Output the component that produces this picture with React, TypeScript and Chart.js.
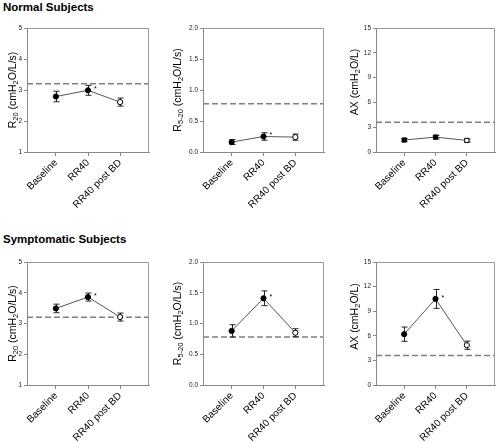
import React, { useEffect, useRef } from "react";
import { Chart, registerables } from "chart.js";
Chart.register(...registerables);

const FONT = '"Liberation Sans", Arial, sans-serif';
Chart.defaults.font.family = FONT;

// ---- data ----
const categories = ["Baseline", "RR40", "RR40 post BD"];
const xPositions = [1, 2, 3];

const r20Normal = [2.79, 2.99, 2.61];
const r20NormalErr = [0.17, 0.16, 0.13];
const r520Normal = [0.16, 0.25, 0.24];
const r520NormalErr = [0.04, 0.06, 0.05];
const axNormal = [1.45, 1.8, 1.4];
const axNormalErr = [0.18, 0.22, 0.18];

const r20Symp = [3.49, 3.86, 3.21];
const r20SympErr = [0.14, 0.13, 0.13];
const r520Symp = [0.88, 1.41, 0.85];
const r520SympErr = [0.1, 0.12, 0.065];
const axSymp = [6.2, 10.5, 4.85];
const axSympErr = [0.87, 1.15, 0.5];

const refR20 = 3.2;
const refR520 = 0.78;
const refAX = 3.6;

const starNormal = [false, true, false];
const starNormalAX = [false, false, false];
const starSymp = [false, true, false];

const markerFill = ["#000000", "#000000", "#ffffff"];

const r20Ticks = [1, 2, 3, 4, 5];
const r520Ticks = [0, 0.5, 1.0, 1.5, 2.0];
const axTicks = [0, 3, 6, 9, 12, 15];

// title segments: [text, isSubscript]
const titleR20: [string, boolean][] = [["R", false], ["20", true], [" (cmH", false], ["2", true], ["O/L/s)", false]];
const titleR520: [string, boolean][] = [["R", false], ["5-20", true], [" (cmH", false], ["2", true], ["O/L/s)", false]];
const titleAX: [string, boolean][] = [["AX (cmH", false], ["2", true], ["O/L)", false]];

const rowTitles = ["Normal Subjects", "Symptomatic Subjects"];

type PanelDef = {
  plotLeft: number; plotTop: number; plotW: number; plotH: number;
  values: number[]; errs: number[]; ref: number; stars: boolean[];
  ticks: number[]; decimals: number; title: [string, boolean][];
  titleOffset: number; titleShift: number; pointStyle: string; pointRadius: number;
};

const YW = 40, PT = 8, PR = 2, XH = 62;

function Panel({ p }: { p: PanelDef }) {
  const ref = useRef<HTMLCanvasElement>(null);
  const cw = YW + p.plotW + PR;
  const ch = PT + p.plotH + XH;
  useEffect(() => {
    const deco = {
      id: "deco",
      beforeDatasetsDraw(chart: any) {
        const { ctx, chartArea, scales } = chart;
        ctx.save();
        // reference dashed line
        const yr = scales.y.getPixelForValue(p.ref);
        ctx.strokeStyle = "#808080";
        ctx.lineWidth = 1.5;
        ctx.setLineDash([6, 3]);
        ctx.beginPath();
        ctx.moveTo(chartArea.left, yr);
        ctx.lineTo(chartArea.right, yr);
        ctx.stroke();
        ctx.setLineDash([]);
        // error bars
        ctx.strokeStyle = "#222";
        ctx.lineWidth = 1;
        p.values.forEach((v, i) => {
          const x = Math.round(scales.x.getPixelForValue(xPositions[i])) + 0.5;
          const y1 = scales.y.getPixelForValue(v + p.errs[i]);
          const y2 = scales.y.getPixelForValue(v - p.errs[i]);
          ctx.beginPath();
          ctx.moveTo(x, y1); ctx.lineTo(x, y2);
          ctx.moveTo(x - 3, y1); ctx.lineTo(x + 3, y1);
          ctx.moveTo(x - 3, y2); ctx.lineTo(x + 3, y2);
          ctx.stroke();
        });
        ctx.restore();
      },
      afterDraw(chart: any) {
        const { ctx, chartArea } = chart;
        ctx.save();
        // box top/right
        ctx.strokeStyle = "#999";
        ctx.lineWidth = 1;
        ctx.beginPath();
        ctx.moveTo(chartArea.left, chartArea.top + 0.5);
        ctx.lineTo(chartArea.right - 0.5, chartArea.top + 0.5);
        ctx.lineTo(chartArea.right - 0.5, chartArea.bottom);
        ctx.stroke();
        // stars
        const meta = chart.getDatasetMeta(0);
        ctx.fillStyle = "#000";
        ctx.font = `7px ${FONT}`;
        ctx.textBaseline = "middle";
        ctx.textAlign = "left";
        p.stars.forEach((s, i) => {
          if (!s) return;
          const pt = meta.data[i];
          ctx.fillText("*", pt.x + 6, pt.y - 1);
        });
        // y title
        const fs = 10.5, ss = 7.5;
        const segs = p.title;
        let total = 0;
        segs.forEach(([t, sub]) => {
          ctx.font = `${sub ? ss : fs}px ${FONT}`;
          total += ctx.measureText(t).width;
        });
        ctx.translate(chartArea.left - p.titleOffset, (chartArea.top + chartArea.bottom) / 2 + p.titleShift);
        ctx.rotate(-Math.PI / 2);
        let x = -total / 2;
        ctx.textAlign = "left";
        ctx.textBaseline = "middle";
        ctx.fillStyle = "#000";
        segs.forEach(([t, sub]) => {
          ctx.font = `${sub ? ss : fs}px ${FONT}`;
          ctx.fillText(t, x, sub ? 3 : 0);
          x += ctx.measureText(t).width;
        });
        ctx.restore();
      },
    };
    const chart = new Chart(ref.current!, {
      type: "line",
      data: {
        datasets: [
          {
            data: xPositions.map((x, i) => ({ x, y: p.values[i] })),
            borderColor: "#555",
            borderWidth: 1,
            pointRadius: p.pointRadius,
            pointStyle: p.pointStyle as any,
            pointBackgroundColor: markerFill,
            pointBorderColor: "#000",
            pointBorderWidth: 1,
            tension: 0,
          },
        ],
      },
      options: {
        animation: false,
        responsive: false,
        maintainAspectRatio: false,
        layout: { padding: { top: PT, right: PR, left: 0, bottom: 0 } },
        plugins: { legend: { display: false }, tooltip: { enabled: false } },
        scales: {
          x: {
            type: "linear",
            min: 0.1,
            max: 3.9,
            afterBuildTicks: (s: any) => {
              s.ticks = xPositions.map((v) => ({ value: v }));
            },
            ticks: {
              autoSkip: false,
              minRotation: 45,
              maxRotation: 45,
              padding: 1,
              color: "#000",
              font: { size: 10, family: FONT },
              callback: (v: any) => categories[xPositions.indexOf(v)] ?? "",
            },
            grid: { drawOnChartArea: false, tickLength: 4, color: "#888" },
            border: { color: "#888" },
            afterFit: (s: any) => {
              s.height = XH;
              s.paddingLeft = 0;
              s.paddingRight = 0;
            },
          },
          y: {
            type: "linear",
            min: p.ticks[0],
            max: p.ticks[p.ticks.length - 1],
            afterBuildTicks: (s: any) => {
              s.ticks = p.ticks.map((v) => ({ value: v }));
            },
            ticks: {
              padding: 2,
              color: "#222",
              font: { size: 6.5, family: FONT },
              callback: (v: any) => Number(v).toFixed(p.decimals),
            },
            grid: { drawOnChartArea: false, tickLength: 3, color: "#888" },
            border: { color: "#888" },
            afterFit: (s: any) => {
              s.width = YW;
              s.paddingTop = 0;
              s.paddingBottom = 0;
            },
          },
        },
      } as any,
      plugins: [deco],
    });
    return () => chart.destroy();
  }, []);
  return (
    <canvas
      ref={ref}
      width={cw}
      height={ch}
      style={{ position: "absolute", left: p.plotLeft - YW, top: p.plotTop - PT, width: cw, height: ch }}
    />
  );
}

const colLeft = [27, 203, 376];
const colW = [125, 124, 122];
const rowTop = [28, 262];
const rowH = [124, 123];

const panels: PanelDef[] = [
  { plotLeft: colLeft[0], plotTop: rowTop[0], plotW: colW[0], plotH: rowH[0], values: r20Normal, errs: r20NormalErr, ref: refR20, stars: starNormal, ticks: r20Ticks, decimals: 0, title: titleR20, titleOffset: 14, titleShift: 0, pointStyle: "circle", pointRadius: 2.6 },
  { plotLeft: colLeft[1], plotTop: rowTop[0], plotW: colW[1], plotH: rowH[0], values: r520Normal, errs: r520NormalErr, ref: refR520, stars: starNormal, ticks: r520Ticks, decimals: 1, title: titleR520, titleOffset: 25, titleShift: 0, pointStyle: "circle", pointRadius: 2.6 },
  { plotLeft: colLeft[2], plotTop: rowTop[0], plotW: colW[2], plotH: rowH[0], values: axNormal, errs: axNormalErr, ref: refAX, stars: starNormalAX, ticks: axTicks, decimals: 0, title: titleAX, titleOffset: 21, titleShift: -8, pointStyle: "rect", pointRadius: 3 },
  { plotLeft: colLeft[0], plotTop: rowTop[1], plotW: colW[0], plotH: rowH[1], values: r20Symp, errs: r20SympErr, ref: refR20, stars: starSymp, ticks: r20Ticks, decimals: 0, title: titleR20, titleOffset: 14, titleShift: 0, pointStyle: "circle", pointRadius: 2.6 },
  { plotLeft: colLeft[1], plotTop: rowTop[1], plotW: colW[1], plotH: rowH[1], values: r520Symp, errs: r520SympErr, ref: refR520, stars: starSymp, ticks: r520Ticks, decimals: 1, title: titleR520, titleOffset: 25, titleShift: 0, pointStyle: "circle", pointRadius: 2.6 },
  { plotLeft: colLeft[2], plotTop: rowTop[1], plotW: colW[2], plotH: rowH[1], values: axSymp, errs: axSympErr, ref: refAX, stars: starSymp, ticks: axTicks, decimals: 0, title: titleAX, titleOffset: 21, titleShift: -7, pointStyle: "circle", pointRadius: 2.6 },
];

export default function App() {
  return (
    <div style={{ position: "absolute", left: 0, top: 0, width: 500, height: 442, overflow: "hidden", background: "#fff" }}>
      <div style={{ position: "absolute", left: 3, top: 0, font: `bold 11.5px ${FONT}`, lineHeight: "14px", color: "#000" }}>{rowTitles[0]}</div>
      <div style={{ position: "absolute", left: 3, top: 232, font: `bold 11.5px ${FONT}`, lineHeight: "14px", color: "#000" }}>{rowTitles[1]}</div>
      {panels.map((p, i) => (
        <Panel key={i} p={p} />
      ))}
    </div>
  );
}
